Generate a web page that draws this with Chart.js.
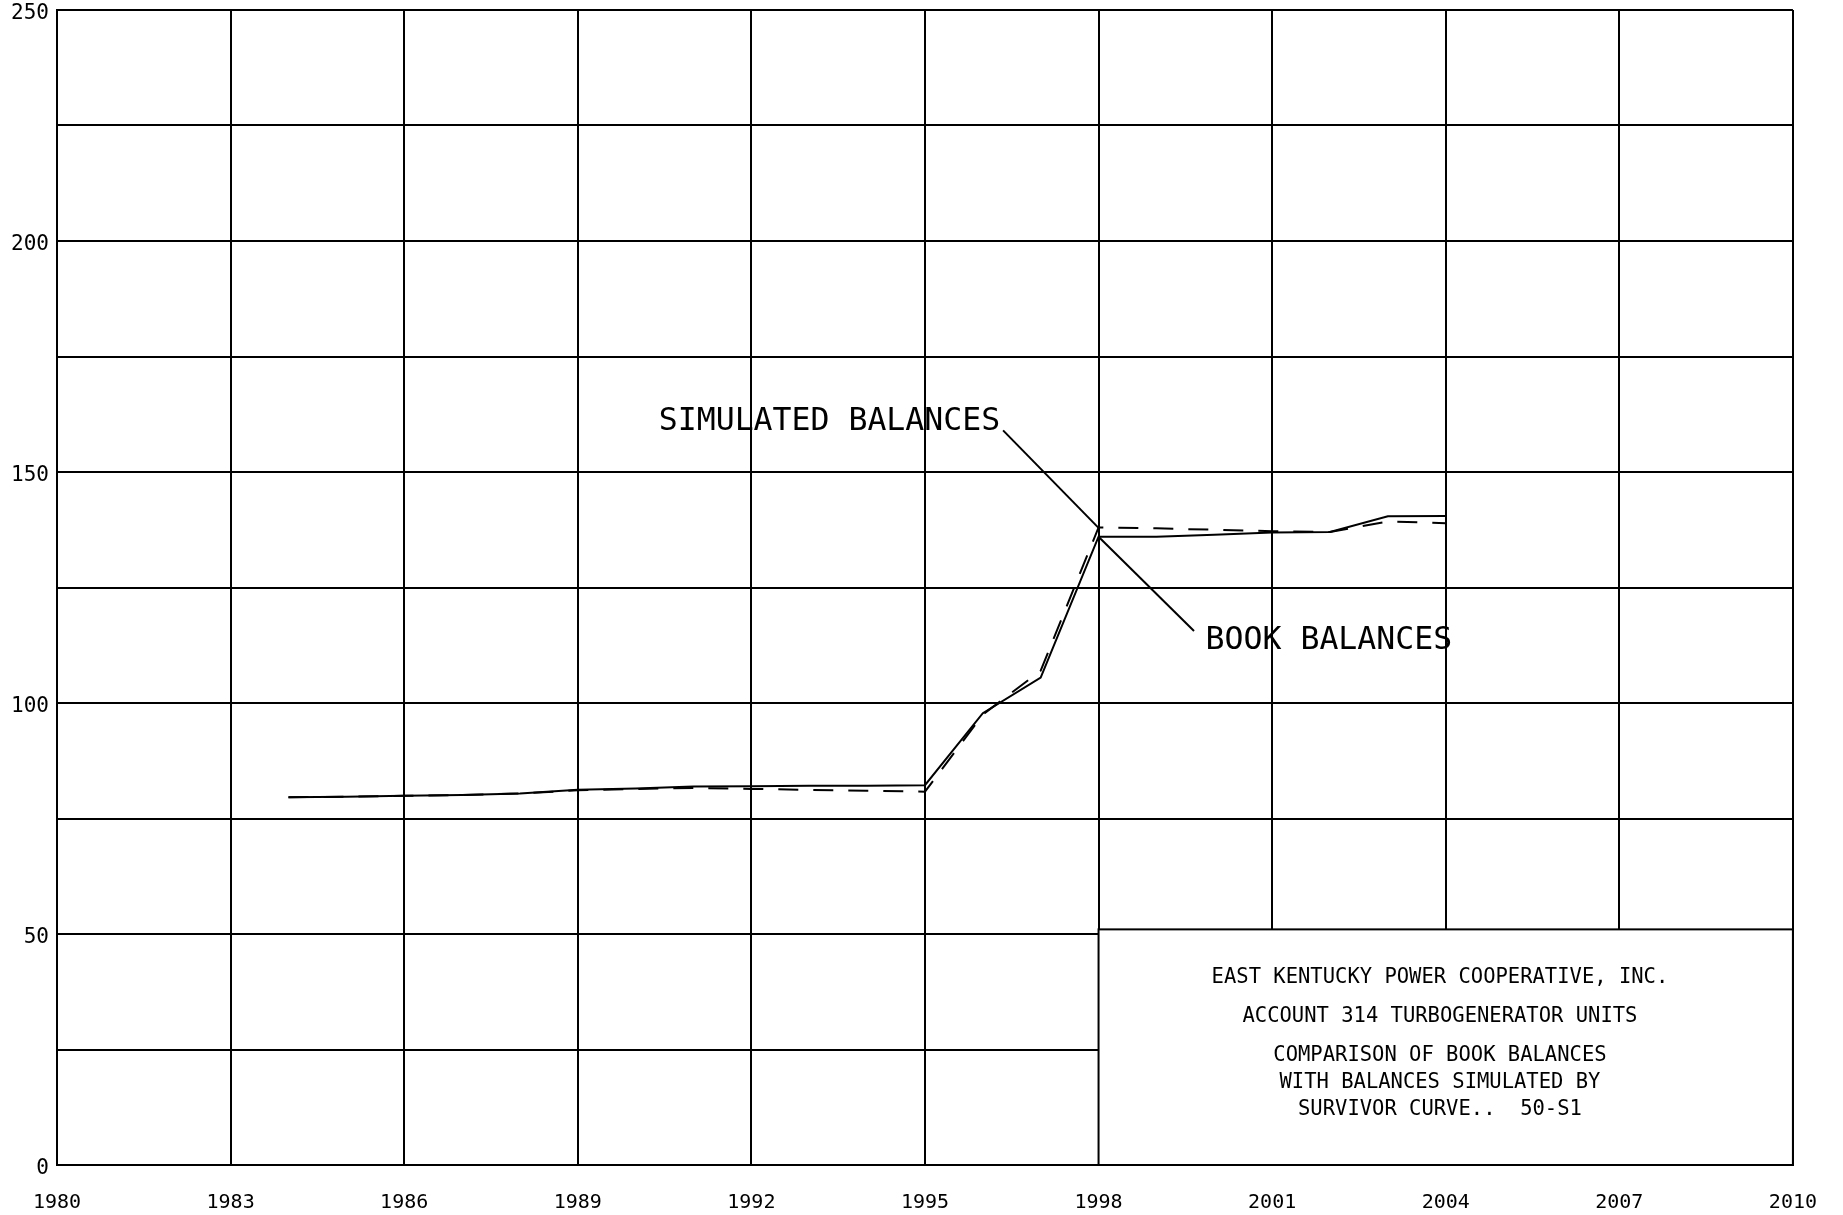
<!DOCTYPE html>
<html>
<head>
<meta charset="utf-8">
<script src="https://cdn.jsdelivr.net/npm/chart.js@4.4.1/dist/chart.umd.min.js"></script>
<style>
  html, body { margin: 0; padding: 0; background: #fff; }
  #wrap { width: 1843px; height: 1215px; }
</style>
</head>
<body>
<div id="wrap"><canvas id="c" width="1843" height="1215"></canvas></div>
<script>
// ---- data ----
const years = [1984,1985,1986,1987,1988,1989,1990,1991,1992,1993,1994,1995,1996,1997,1998,1999,2000,2001,2002,2003,2004];
const bookBalances = [79.6,79.7,79.9,80.1,80.4,81.2,81.5,81.9,82.0,82.1,82.1,82.2,97.8,105.5,136.0,136.0,136.4,136.9,137.0,140.4,140.5];
const simulatedBalances = [79.6,79.7,79.9,80.1,80.4,81.1,81.4,81.6,81.4,81.2,81.0,80.8,97.5,107.0,138.0,137.8,137.5,137.2,137.0,139.3,138.9];
const xTickLabels = [1980,1983,1986,1989,1992,1995,1998,2001,2004,2007,2010];
const yTickLabels = [0,50,100,150,200,250];
const titleLines = [
  'EAST KENTUCKY POWER COOPERATIVE, INC.',
  'ACCOUNT 314 TURBOGENERATOR UNITS',
  'COMPARISON OF BOOK BALANCES',
  'WITH BALANCES SIMULATED BY',
  'SURVIVOR CURVE..  50-S1'
];
const labelSimulated = 'SIMULATED BALANCES';
const labelBook = 'BOOK BALANCES';

// ---- annotation layout (data units) ----
const layoutCfg = {
  box: { x0: 1998, x1: 2010, y0: 0, y1: 51 },
  titleX: 2003.9,
  titleY: [40.6, 32.0, 23.6, 17.8, 12.0],
  simText: { x: 1990.4, y: 160.8 },
  simLeader: [[1996.35, 159.0], [1998, 137.9]],
  bookText: { x: 1999.85, y: 113.5 },
  bookLeader: [[1998, 136.0], [1999.65, 115.6]]
};

const FONT = '"DejaVu Sans Mono", "Liberation Mono", monospace';

const overlayPlugin = {
  id: 'overlay',
  afterDraw(chart) {
    const ctx = chart.ctx;
    const xs = chart.scales.x, ys = chart.scales.y;
    const X = v => xs.getPixelForValue(v), Y = v => ys.getPixelForValue(v);
    ctx.save();
    const b = layoutCfg.box;
    ctx.fillStyle = '#fff';
    ctx.fillRect(X(b.x0), Y(b.y1), X(b.x1) - X(b.x0), Y(b.y0) - Y(b.y1));
    ctx.strokeStyle = '#000';
    ctx.lineWidth = 2;
    ctx.strokeRect(X(b.x0), Y(b.y1), X(b.x1) - X(b.x0), Y(b.y0) - Y(b.y1));
    ctx.fillStyle = '#000';
    ctx.font = '20.5px ' + FONT;
    ctx.textAlign = 'center';
    ctx.textBaseline = 'middle';
    titleLines.forEach((t, i) => ctx.fillText(t, X(layoutCfg.titleX), Y(layoutCfg.titleY[i])));
    ctx.font = '31.5px ' + FONT;
    ctx.textAlign = 'left';
    ctx.fillText(labelSimulated, X(layoutCfg.simText.x), Y(layoutCfg.simText.y));
    ctx.fillText(labelBook, X(layoutCfg.bookText.x), Y(layoutCfg.bookText.y));
    ctx.lineWidth = 2;
    [layoutCfg.simLeader, layoutCfg.bookLeader].forEach(l => {
      ctx.beginPath();
      ctx.moveTo(X(l[0][0]), Y(l[0][1]));
      ctx.lineTo(X(l[1][0]), Y(l[1][1]));
      ctx.stroke();
    });
    ctx.restore();
  }
};

new Chart(document.getElementById('c'), {
  type: 'line',
  data: {
    datasets: [
      {
        label: 'Book Balances',
        data: years.map((y, i) => ({ x: y, y: bookBalances[i] })),
        borderColor: '#000', borderWidth: 2, pointRadius: 0, tension: 0, fill: false
      },
      {
        label: 'Simulated Balances',
        data: years.map((y, i) => ({ x: y, y: simulatedBalances[i] })),
        borderColor: '#000', borderWidth: 2, borderDash: [20, 15], pointRadius: 0, tension: 0, fill: false
      }
    ]
  },
  options: {
    responsive: false,
    animation: false,
    devicePixelRatio: 1,
    layout: { padding: { top: 10, right: 50, left: 0, bottom: 0 } },
    plugins: { legend: { display: false }, tooltip: { enabled: false } },
    scales: {
      x: {
        type: 'linear', min: 1980, max: 2010,
        afterBuildTicks: s => { s.ticks = xTickLabels.map(v => ({ value: v })); },
        afterFit: s => { s.height = 50; },
        grid: { color: '#000', lineWidth: 2, drawTicks: false },
        border: { display: true, color: '#000', width: 2 },
        ticks: { color: '#000', font: { family: FONT, size: 20 }, padding: 26, maxRotation: 0, autoSkip: false,
                  callback: v => String(v) }
      },
      y: {
        min: 0, max: 250,
        afterBuildTicks: s => { const t = []; for (let v = 0; v <= 250; v += 25) t.push({ value: v }); s.ticks = t; },
        afterFit: s => { s.width = 57; s.paddingTop = 0; s.paddingBottom = 0; },
        grid: { color: '#000', lineWidth: 2, drawTicks: false },
        border: { display: true, color: '#000', width: 2 },
        ticks: { color: '#000', font: { family: FONT, size: 21 }, padding: 8, labelOffset: 4, autoSkip: false,
                  callback: v => yTickLabels.includes(v) ? String(v) : '' }
      }
    }
  },
  plugins: [overlayPlugin]
});
</script>
</body>
</html>
